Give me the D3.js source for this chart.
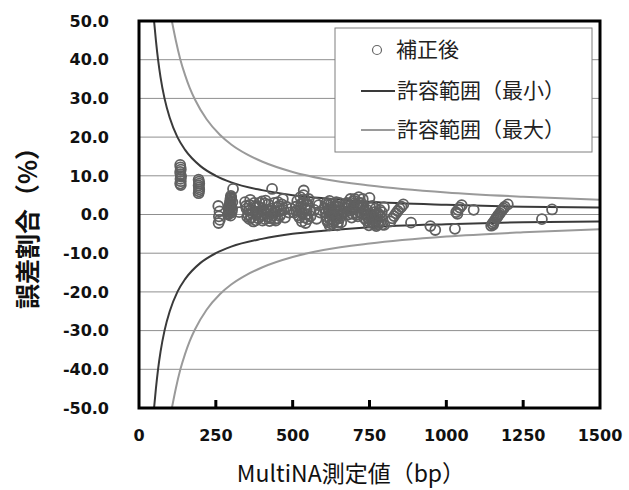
<!DOCTYPE html>
<html>
<head>
<meta charset="utf-8">
<script src="https://cdn.jsdelivr.net/npm/d3@7"></script>
<style>
  body { margin: 0; background: #fff; }
</style>
</head>
<body>
<div id="chart"></div>
<script>
const width = 629;
const height = 490;

// Measured size (bp) and error ratio (%) of the corrected samples
const sizeBp = [
    134, 135, 136, 134, 135, 137, 135, 136, 134, 136,
    194, 195, 196, 194, 195, 196, 195, 194,
    258, 262, 260, 263, 259,
    290, 292, 293, 294, 295, 296, 297, 298, 299, 300, 302, 298, 304, 306, 326,
    291, 293, 295, 296, 297, 298, 299, 300, 301, 303,
    345, 350, 355, 360, 365, 370, 375, 380, 385, 390, 395, 400, 405, 410, 415, 420, 425, 430, 433, 435,
    440, 445, 450, 455, 460, 468, 470, 475, 480, 488, 495, 360, 400, 420, 380, 445, 410,
    348, 352, 358, 362, 368, 372, 378, 382, 388, 392, 398, 402, 408, 412, 418, 422, 428, 438, 442, 448,
    452, 458, 462, 465,
    505, 510, 515, 520, 522, 525, 528, 530, 532, 535, 536, 538, 540, 542, 545, 548, 550, 552, 555, 558,
    512, 518, 526, 534, 540, 546, 550, 528,
    570, 575, 578, 585, 590,
    605, 610, 612, 615, 618, 620, 622, 625, 628, 630, 632, 635, 638, 640, 642, 645, 648, 650, 652, 655,
    658, 660, 625, 640,
    608, 612, 616, 620, 624, 628, 632, 636, 640, 644, 648, 652, 656, 610, 634, 646,
    672, 676, 680, 684, 688, 692, 696, 700, 704, 708, 712, 715, 718, 722, 726, 730, 734, 750,
    675, 680, 686, 690, 694, 698, 702, 706, 710, 714, 720, 724, 728, 732,
    735, 740, 744, 748, 752, 756, 760, 764, 768, 772, 776, 780, 784, 788, 792, 797, 798, 760, 770,
    738, 742, 746, 750, 754, 758, 762, 766, 770, 774, 778, 782, 786, 790,
    818, 824, 830, 836, 842, 848, 854, 860, 885, 948, 964, 1028,
    1032, 1038, 1044, 1050, 1036, 1089,
    1146, 1150, 1154, 1158, 1162, 1166, 1170, 1174, 1178, 1182, 1186, 1190, 1200, 1152, 1168, 1311, 1344
];
const errorPct = [
    12.8, 12.2, 11.6, 11.0, 10.4, 9.8, 9.2, 8.6, 8.0, 7.6,
    9.0, 8.5, 8.0, 7.5, 7.0, 6.5, 6.0, 5.5,
    2.2, 0.8, -0.5, -1.4, -2.2,
    0.0, 0.6, 1.2, 1.8, 2.4, 3.0, 3.6, 4.2, 4.8, 2.0, 1.0, -0.3, 3.2, 6.6, 0.6,
    0.3, 0.9, 1.5, 2.1, 2.7, 3.3, 3.9, 4.5, 0.5, 1.5,
    3.2, 1.5, 0.0, 2.5, -0.8, 1.0, 3.0, -1.5, 0.5, 2.0, -0.5, 3.4, 1.2, -1.2, 0.2, 2.6, -1.7, 1.5, 6.6, -0.3,
    3.0, 0.8, -1.0, 2.2, 0.0, 4.0, 1.2, -0.8, 2.0, 0.5, 1.5, -1.2, 0.0, 0.8, 1.8, -1.6, 2.8,
    2.2, -0.6, 1.0, 3.8, 0.3, -1.8, 2.2, 0.0, -1.0, 3.0, 1.0, -1.6, 0.5, 3.6, -0.6, 1.2, -1.0, 0.4, -1.2, 1.8,
    3.2, -0.4, 1.0, 2.6,
    0.5, 2.0, 3.5, 1.0, -0.8, 4.5, 2.8, -1.8, 0.2, 5.0, 6.2, 3.8, 1.5, -2.2, 0.0, 2.5, -1.2, 4.0, 1.0, -0.5,
    1.0, -0.2, 1.8, 3.0, -0.8, 1.2, 2.6, 0.6,
    1.2, 3.0, -1.1, 2.4, 0.5,
    1.5, -0.5, 2.5, -2.0, 0.8, 3.5, -1.2, 1.8, -2.5, 0.0, 2.8, -1.6, 1.2, -0.3, 3.2, -2.8, 0.5, 2.0, -1.0, 1.0,
    -2.0, 0.2, -0.2, 2.2,
    0.5, -1.5, 1.2, -2.8, 2.6, 0.8, -2.0, 2.0, -1.2, 1.0, -2.0, 3.0, 0.0, 3.0, 0.4, -0.8,
    1.5, 3.0, 0.0, 2.2, 4.0, -0.8, 1.2, 3.5, 0.5, 2.6, -0.5, 4.5, 1.8, 3.0, 0.2, 2.0, -1.0, 4.3,
    0.8, 2.8, 1.0, 3.0, 0.2, 2.0, 4.0, 1.5, 0.0, 3.0, 0.5, 2.2, 4.0, 1.0,
    1.0, -1.5, 0.0, -2.8, 1.8, -0.8, -2.2, 0.6, -1.6, -3.0, 0.2, -2.0, 1.2, -0.6, -2.6, 1.9, -2.7, 2.2, 1.5,
    0.0, 1.2, -1.0, -2.0, 0.2, -1.4, -0.4, -2.5, -0.2, -1.2, -2.6, 0.0, -1.8, 0.6,
    -1.8, -1.0, -0.4, 0.3, 0.9, 1.5, 2.0, 2.6, -2.1, -3.0, -4.0, -3.7,
    0.6, 1.2, 1.8, 2.4, 0.2, 1.2,
    -2.9, -2.4, -2.0, -1.5, -1.0, -0.6, -0.1, 0.3, 0.8, 1.2, 1.6, 2.0, 2.6, -2.7, -0.3, -1.2, 1.3
];

// Tolerance range (minimum)
const minBp = [49, 55, 62, 70, 83, 100, 125, 150, 200, 250, 300, 400, 500, 600, 750, 1000, 1250, 1500];
const minUpper = [50, 45, 40, 35.5, 30, 25, 20, 16.7, 12.5, 10, 8.3, 6.3, 5.0, 4.2, 3.3, 2.5, 2.0, 1.8];
const minLower = [-50, -45, -40, -35.5, -30, -25, -20, -16.7, -12.5, -10, -8.3, -6.3, -5.0, -4.2, -3.3, -2.5, -2.0, -1.8];

// Tolerance range (maximum)
const maxBp = [107, 120, 134, 150, 165, 182, 220, 263, 300, 350, 400, 500, 600, 750, 1000, 1250, 1500];
const maxUpper = [50, 44.9, 40.2, 36, 32.7, 29.7, 24.6, 20.6, 18.1, 15.6, 13.7, 11, 9.2, 7.5, 5.7, 4.6, 3.8];
const maxLower = [-50, -44.9, -40.2, -36, -32.7, -29.7, -24.6, -20.6, -18.1, -15.6, -13.7, -11, -9.2, -7.5, -5.7, -4.6, -3.8];

const xTicks = [0, 250, 500, 750, 1000, 1250, 1500];
const yTicks = [-50, -40, -30, -20, -10, 0, 10, 20, 30, 40, 50];

const legendLabels = ["補正後", "許容範囲（最小）", "許容範囲（最大）"];

const plot = { left: 139, right: 600, top: 21, bottom: 408 };

const svg = d3.select("#chart")
    .append("svg")
    .attr("width", width)
    .attr("height", height)
    .style("font-family", "'Noto Sans CJK JP', 'Liberation Sans', sans-serif");

const x = d3.scaleLinear().domain([0, 1500]).range([plot.left, plot.right]);
const y = d3.scaleLinear().domain([-50, 50]).range([plot.bottom, plot.top]);

svg.append("clipPath")
    .attr("id", "plot-clip")
    .append("rect")
    .attr("x", plot.left)
    .attr("y", plot.top)
    .attr("width", plot.right - plot.left)
    .attr("height", plot.bottom - plot.top);

// Horizontal gridlines
svg.append("g")
    .selectAll("line")
    .data(yTicks.filter(d => Math.abs(d) < 50))
    .enter()
    .append("line")
    .attr("x1", plot.left)
    .attr("x2", plot.right)
    .attr("y1", d => y(d))
    .attr("y2", d => y(d))
    .attr("stroke", "#8f8f8f")
    .attr("stroke-width", 1);

// Tolerance curves
const line = d3.line()
    .x(d => x(d[0]))
    .y(d => y(d[1]))
    .curve(d3.curveMonotoneX);

const curves = [
    { bp: minBp, pct: minUpper, color: "#3a3a3a" },
    { bp: minBp, pct: minLower, color: "#3a3a3a" },
    { bp: maxBp, pct: maxUpper, color: "#9a9a9a" },
    { bp: maxBp, pct: maxLower, color: "#9a9a9a" }
];

svg.append("g")
    .attr("clip-path", "url(#plot-clip)")
    .selectAll("path")
    .data(curves)
    .enter()
    .append("path")
    .attr("d", c => line(c.bp.map((b, i) => [b, c.pct[i]])))
    .attr("fill", "none")
    .attr("stroke", c => c.color)
    .attr("stroke-width", 2);

// Sample points
const points = sizeBp.map((b, i) => ({ bp: b, pct: errorPct[i] }));

svg.append("g")
    .selectAll("circle")
    .data(points)
    .enter()
    .append("circle")
    .attr("cx", d => x(d.bp))
    .attr("cy", d => y(d.pct))
    .attr("r", 5)
    .attr("fill", "none")
    .attr("stroke", "#606060")
    .attr("stroke-width", 1.8);

// Legend
const legend = svg.append("g");

legend.append("rect")
    .attr("x", 335)
    .attr("y", 28)
    .attr("width", 257)
    .attr("height", 124)
    .attr("fill", "#fff")
    .attr("stroke", "#7f7f7f")
    .attr("stroke-width", 1);

legend.append("circle")
    .attr("cx", 377)
    .attr("cy", 50)
    .attr("r", 4.5)
    .attr("fill", "none")
    .attr("stroke", "#666")
    .attr("stroke-width", 1.2);

legend.selectAll("line")
    .data([{ yy: 91, color: "#3a3a3a" }, { yy: 130, color: "#9a9a9a" }])
    .enter()
    .append("line")
    .attr("x1", 361)
    .attr("x2", 395)
    .attr("y1", d => d.yy)
    .attr("y2", d => d.yy)
    .attr("stroke", d => d.color)
    .attr("stroke-width", 2);

legend.selectAll("text")
    .data(legendLabels)
    .enter()
    .append("text")
    .attr("x", (d, i) => i === 0 ? 396 : 397)
    .attr("y", (d, i) => [50, 91, 130][i])
    .attr("dy", "0.35em")
    .attr("font-size", "21px")
    .attr("fill", "#222")
    .text(d => d);

// Frame
svg.append("rect")
    .attr("x", plot.left)
    .attr("y", plot.top)
    .attr("width", plot.right - plot.left)
    .attr("height", plot.bottom - plot.top)
    .attr("fill", "none")
    .attr("stroke", "#000")
    .attr("stroke-width", 3);

// Inner tick marks on the x axis
svg.append("g")
    .selectAll("line")
    .data(xTicks.slice(1, -1))
    .enter()
    .append("line")
    .attr("x1", d => x(d))
    .attr("x2", d => x(d))
    .attr("y1", plot.bottom)
    .attr("y2", plot.bottom - 8)
    .attr("stroke", "#000")
    .attr("stroke-width", 3);

// Tick labels
svg.append("g")
    .selectAll("text")
    .data(xTicks)
    .enter()
    .append("text")
    .attr("x", d => x(d))
    .attr("y", 441)
    .attr("text-anchor", "middle")
    .attr("font-family", "'DejaVu Sans', sans-serif")
    .attr("font-weight", "bold")
    .attr("font-size", "16px")
    .attr("fill", "#111")
    .text(d => d);

svg.append("g")
    .selectAll("text")
    .data(yTicks)
    .enter()
    .append("text")
    .attr("x", 109)
    .attr("y", d => y(d))
    .attr("dy", "0.36em")
    .attr("text-anchor", "end")
    .attr("font-family", "'DejaVu Sans', sans-serif")
    .attr("font-weight", "bold")
    .attr("font-size", "16px")
    .attr("fill", "#111")
    .text(d => d.toFixed(1));

// Axis titles
svg.append("text")
    .attr("transform", "translate(28,222) rotate(-90)")
    .attr("text-anchor", "middle")
    .attr("dy", "0.35em")
    .attr("font-size", "25px")
    .attr("font-weight", "bold")
    .attr("fill", "#111")
    .text("誤差割合（%）");

svg.append("text")
    .attr("x", 351)
    .attr("y", 482)
    .attr("text-anchor", "middle")
    .attr("font-size", "23px")
    .attr("fill", "#111")
    .text("MultiNA測定値（bp）");
</script>
</body>
</html>
